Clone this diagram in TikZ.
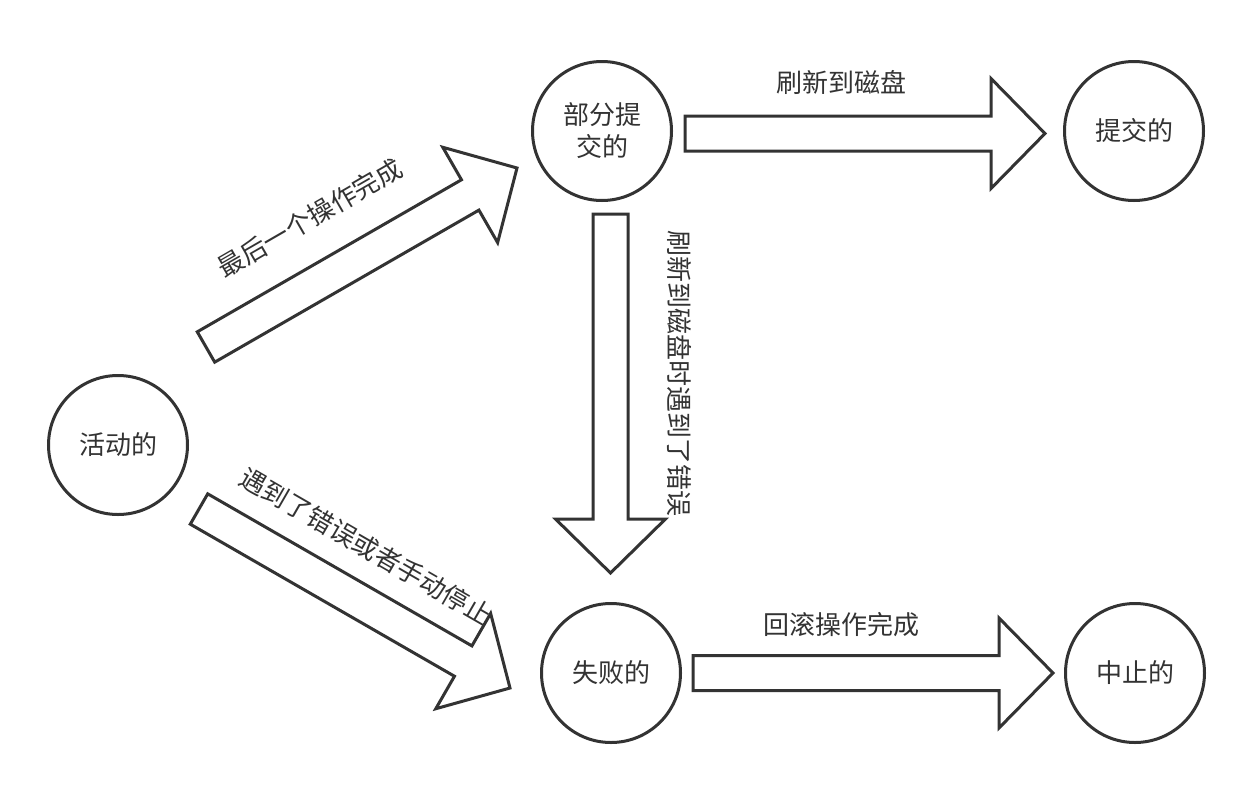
\documentclass[tikz,border=0pt]{standalone}
\usepackage{fontspec}
\setmainfont{Noto Sans CJK SC}
\usetikzlibrary{calc}
\definecolor{ink}{HTML}{333333}
\newcommand\blkarrow[2]{%
  \coordinate (#1b) at ($(#2)!54pt!(#1)$);
  \draw[blockline] ($(#1)!17.5pt!90:(#2)$) -- ($(#1b)!17.5pt!90:(#2)$) -- ($(#1b)!55pt!90:(#2)$) -- (#2) -- ($(#1b)!55pt!-90:(#2)$) -- ($(#1b)!17.5pt!-90:(#2)$) -- ($(#1)!17.5pt!-90:(#2)$) -- cycle;}
\begin{document}
\begin{tikzpicture}[x=1pt,y=-1pt,
  state/.style={circle,draw=ink,line width=3pt,minimum size=139pt,inner sep=0pt,text=ink,font=\fontsize{26}{32}\selectfont,align=center},
  lbl/.style={text=ink,font=\fontsize{26}{32}\selectfont,inner sep=0pt},
  blockline/.style={draw=ink,line width=3pt,line join=miter,fill=white}]
\useasboundingbox (0,0) rectangle (1254,793);
\fill[white] (0,0) rectangle (1254,793);
\node[state] (active) at (118,445) {活动的};
\node[state] (partial) at (602,131) {部分提\\交的};
\node[state] (committed) at (1134,131) {提交的};
\node[state] (failed) at (611,673) {失败的};
\node[state] (aborted) at (1135,673) {中止的};
\coordinate (a1s) at (206,347); \coordinate (a1e) at (517,168);
\coordinate (a2s) at (199,509); \coordinate (a2e) at (510,688);
\coordinate (a3s) at (685,133.5); \coordinate (a3e) at (1045,133.5);
\coordinate (a4s) at (610.5,214); \coordinate (a4e) at (610.5,573);
\coordinate (a5s) at (693,673); \coordinate (a5e) at (1053,673);
\blkarrow{a1s}{a1e}
\blkarrow{a2s}{a2e}
\blkarrow{a3s}{a3e}
\blkarrow{a4s}{a4e}
\blkarrow{a5s}{a5e}
\node[lbl,rotate=30] (l1) at (310,218) {最后一个操作完成};
\node[lbl,rotate=-30] (l2) at (366,546) {遇到了错误或者手动停止};
\node[lbl] (l3) at (841,82) {刷新到磁盘};
\node[lbl,rotate=-90] (l4) at (679,373) {刷新到磁盘时遇到了错误};
\node[lbl] (l5) at (841,625) {回滚操作完成};
\end{tikzpicture}
\end{document}
